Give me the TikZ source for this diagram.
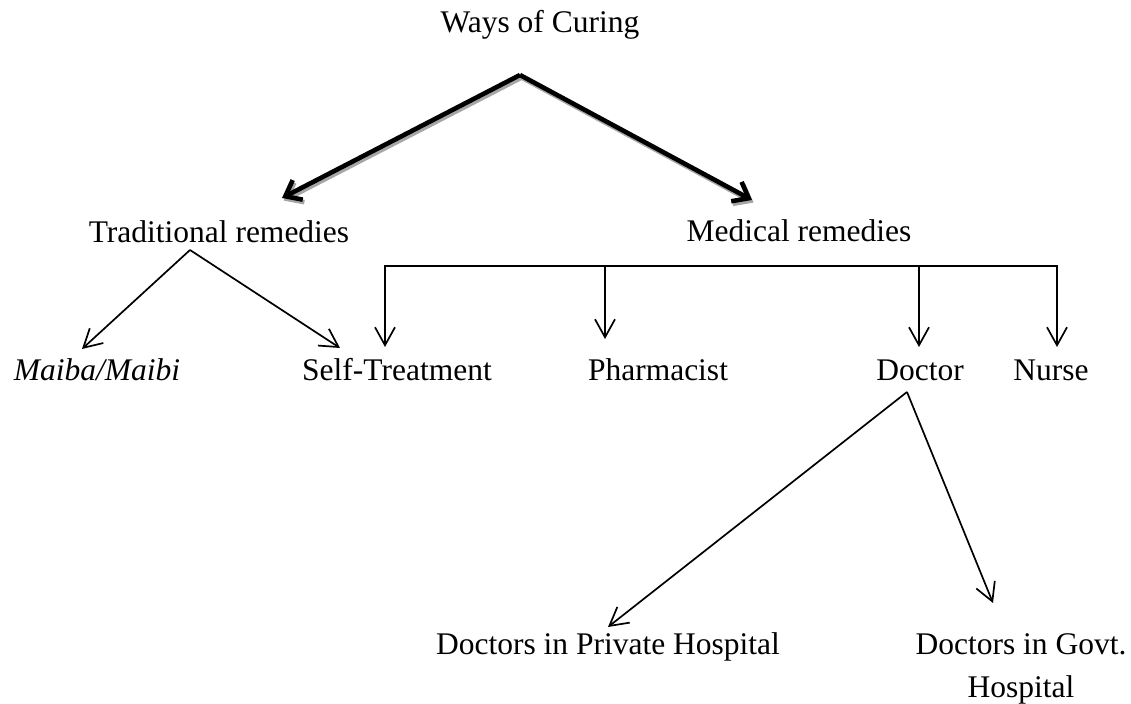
\documentclass[tikz,border=0pt]{standalone}
\usepackage{fontspec}
\setmainfont{Liberation Serif}
\usetikzlibrary{arrows.meta, calc}

\begin{document}
\begin{tikzpicture}[x=0.5pt, y=-0.5pt,
    lbl/.style={anchor=base, inner sep=0pt, font=\fontsize{15.75}{21.5}\selectfont},
    >={Straight Barb[length=9pt, width=10pt]},
    linkarr/.style={line width=0.85pt, ->},
    mainarr/.style={line width=2.3pt, -{Straight Barb[length=7pt, width=11pt]}},
    mainshade/.style={mainarr, draw=black!35, transform canvas={shift={(0.8pt,-1.3pt)}}}]
      \useasboundingbox (0,0) rectangle (1131,704);
      \node[lbl] (curing) at (540,33) {Ways of Curing};
      \node[lbl] (trad) at (219,243) {Traditional remedies};
      \node[lbl] (medical) at (799,242) {Medical remedies};
      \node[lbl] (maiba) at (97,381) {\textit{Maiba/Maibi}};
      \node[lbl] (selftreat) at (397,381) {Self-Treatment};
      \node[lbl] (pharma) at (658,381) {Pharmacist};
      \node[lbl] (doctor) at (920,381) {Doctor};
      \node[lbl] (nurse) at (1051,381) {Nurse};
      \node[lbl] (private) at (608,655) {Doctors in Private Hospital};
      \node[lbl, align=center] (govt) at (1021,698) {Doctors in Govt.\\Hospital};
      \coordinate (curingApex) at ($(curing.base)+(-20,42)$);
      \coordinate (tradApex) at ($(trad.base)+(-29,7)$);
      \coordinate (doctorApex) at ($(doctor.base)+(-13,11)$);
      \coordinate (bar) at ($(medical.base)+(0,24)$);
      \coordinate (sTip) at ($(selftreat.base)+(-12,-34)$);
      \coordinate (pTip) at ($(pharma.base)+(-53,-42)$);
      \coordinate (dTip) at ($(doctor.base)+(-1,-34)$);
      \coordinate (nTip) at ($(nurse.base)+(6,-34)$);
      \foreach \s in {mainshade, mainarr} {
        \draw[\s] (curingApex) -- ($(trad.base)+(63,-45)$);
        \draw[\s] (curingApex) -- ($(medical.base)+(-47,-42)$);
      }
      \draw[linkarr] (tradApex) -- ($(maiba.base)+(-15,-32)$);
      \draw[linkarr] (tradApex) -- ($(selftreat.base)+(-57,-33)$);
      \draw[linkarr, <->] (sTip) -- (sTip |- bar) -- (nTip |- bar) -- (nTip);
      \draw[linkarr] (pTip |- bar) -- (pTip);
      \draw[linkarr] (dTip |- bar) -- (dTip);
      \draw[linkarr] (doctorApex) -- ($(private.base)+(0,-28)$);
      \draw[linkarr] (doctorApex) -- ($(govt.base)+(-28,-95)$);
\end{tikzpicture}
\end{document}
